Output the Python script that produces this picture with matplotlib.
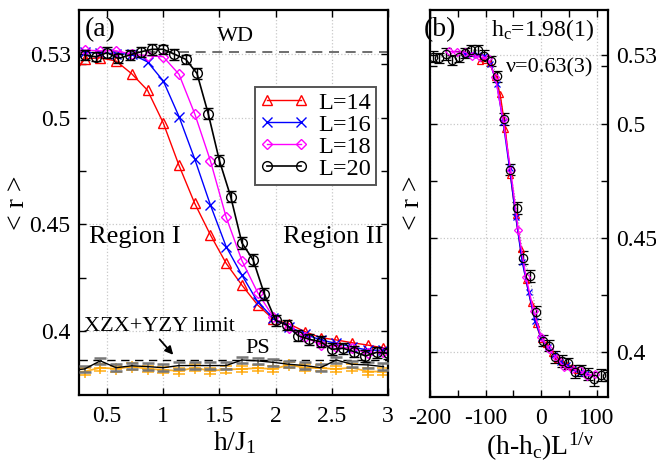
import numpy as np
import matplotlib.pyplot as plt
from matplotlib.ticker import FixedLocator

plt.rcParams['font.family'] = ['Liberation Serif', 'DejaVu Serif']
plt.rcParams['mathtext.fontset'] = 'custom'
plt.rcParams['mathtext.rm'] = 'Liberation Serif'
plt.rcParams['mathtext.it'] = 'Liberation Serif:italic'
plt.rcParams['axes.unicode_minus'] = False

# h/J1 values
h_14 = [0.16, 0.30, 0.44, 0.58, 0.72, 0.86, 1.00, 1.14, 1.28, 1.42, 1.56,
        1.70, 1.84, 1.98, 2.12, 2.26, 2.40, 2.54, 2.68, 2.82, 2.96]
h_grid = h_14[1:]
h_20 = [0.3, 0.4, 0.5, 0.6, 0.7, 0.8, 0.9, 1.0, 1.1, 1.2, 1.3, 1.4, 1.5, 1.6,
        1.7, 1.8, 1.9, 2.0, 2.1, 2.2, 2.3, 2.4, 2.5, 2.6, 2.7, 2.8, 2.9, 3.0]

r_14 = [0.5170, 0.5275, 0.5280, 0.5265, 0.5205, 0.5128, 0.4975, 0.4776, 0.4598,
        0.4450, 0.4317, 0.4215, 0.4122, 0.4055, 0.4033, 0.3997, 0.3969, 0.3958,
        0.3945, 0.3934, 0.3920]
r_16 = [0.5305, 0.5303, 0.5300, 0.5297, 0.5261, 0.5172, 0.5005, 0.4806, 0.4590,
        0.4395, 0.4262, 0.4137, 0.4060, 0.4020, 0.3985, 0.3958, 0.3942, 0.3926,
        0.3910, 0.3910]
r_18 = [0.5316, 0.5313, 0.5313, 0.5297, 0.5290, 0.5285, 0.5203, 0.5018, 0.4797,
        0.4533, 0.4330, 0.4180, 0.4065, 0.4013, 0.3973, 0.3934, 0.3926, 0.3919,
        0.3896, 0.3903]
r_20 = [0.5293, 0.5285, 0.5304, 0.5277, 0.5293, 0.5308, 0.5320, 0.5320, 0.5297,
        0.5273, 0.5207, 0.5019, 0.4798, 0.4630, 0.4413, 0.4333, 0.4173, 0.4050,
        0.4028, 0.3978, 0.3961, 0.3950, 0.3914, 0.3919, 0.3903, 0.3883, 0.3900,
        0.3896]
err_20 = [0.0025, 0.0022, 0.0025, 0.0022, 0.0025, 0.0022, 0.0025, 0.0022, 0.0025,
          0.0022, 0.0025, 0.0025, 0.0025, 0.0025, 0.0028, 0.0028, 0.0028, 0.0025,
          0.0025, 0.0025, 0.0025, 0.0025, 0.0028, 0.0025, 0.0025, 0.0030, 0.0025,
          0.0025]

# PS (Poisson) reference runs
ps_black = [0.3815, 0.3822, 0.3860, 0.3828, 0.3837, 0.3833, 0.3828, 0.3838, 0.3838,
            0.3838, 0.3838, 0.3864, 0.3860, 0.3853, 0.3844, 0.3838, 0.3828, 0.3864,
            0.3844, 0.3841, 0.3833]
ps_orange = [0.3805, 0.3810, 0.3828, 0.3823, 0.3833, 0.3823, 0.3818, 0.3813, 0.3828,
             0.3813, 0.3820, 0.3822, 0.3826, 0.3822, 0.3841, 0.3828, 0.3826, 0.3822,
             0.3828, 0.3810, 0.3810]
ps_err = 0.0015

r_wd = 0.5307
r_ps = 0.3863
hc = 1.98
nu = 0.63


def style(ax):
    for s in ax.spines.values():
        s.set_linewidth(1.6)
    ax.tick_params(which='both', direction='in', top=True, right=True,
                   labelsize=17, width=1.0, length=5)
    ax.grid(True, which='major', color='#c8c8c8', linestyle=':', linewidth=0.9)
    ax.set_axisbelow(True)


fig = plt.figure(figsize=(6.56, 4.62), dpi=100)
ax1 = fig.add_axes([0.1204, 0.145, 0.471, 0.8333])
ax2 = fig.add_axes([0.6555, 0.1407, 0.2713, 0.8377])

# ---------------- panel (a)
style(ax1)
ax1.axhline(r_wd, color='#555555', ls=(0, (6, 4)), lw=1.2, zorder=1)
ax1.axhline(r_ps, color='black', ls=(0, (6, 4)), lw=1.0, zorder=1)

ax1.errorbar(h_14, ps_orange, yerr=ps_err, color='orange', lw=1.3, marker='+',
             ms=8, mew=1.2, ecolor='orange', elinewidth=1.2, capsize=4, capthick=1.5,
             alpha=0.85, zorder=2)
ax1.errorbar(h_14, ps_black, yerr=ps_err, color='black', lw=1.0, fmt='-',
             ecolor='#777777', elinewidth=1.2, capsize=4, capthick=1.8, zorder=3)

ax1.plot(h_14, r_14, '-^', color='red', mfc='none', ms=7, mew=1.0, lw=1.0, label='L=14')
ax1.plot(h_grid, r_16, '-x', color='blue', ms=7, mew=1.0, lw=1.0, label='L=16')
ax1.plot(h_grid, r_18, '-D', color='magenta', mfc='none', ms=5.5, mew=1.0, lw=1.0,
         label='L=18')
ax1.errorbar(h_20, r_20, yerr=err_20, fmt='none', ecolor='black', elinewidth=1.0,
             capsize=3.5, zorder=4)
ax1.plot(h_20, r_20, '-o', color='black', mfc='none', ms=7, mew=1.0, lw=1.2,
         label='L=20', zorder=5)

ax1.set_xlim(0.25, 3.0)
ax1.set_ylim(0.370, 0.5504)
ax1.xaxis.set_major_locator(FixedLocator([0.5, 1.0, 1.5, 2.0, 2.5, 3.0]))
ax1.set_xticklabels(['0.5', '1', '1.5', '2', '2.5', '3'])
ax1.yaxis.set_major_locator(FixedLocator([0.4, 0.45, 0.5, 0.53]))
ax1.yaxis.set_minor_locator(FixedLocator([0.425, 0.475, 0.525]))
ax1.set_yticklabels(['0.4', '0.45', '0.5', '0.53'])
ax1.tick_params(axis='y', pad=6)
ax1.tick_params(axis='x', pad=8)

leg = ax1.legend(loc='upper left', bbox_to_anchor=(0.57, 0.80), numpoints=2,
                 handlelength=2.0, fancybox=False, edgecolor='#555555', framealpha=1,
                 fontsize=17.5, borderpad=0.2, labelspacing=0.0, handletextpad=0.4,
                 borderaxespad=0)
leg.get_frame().set_linewidth(1.4)

ax1.text(0.068, 0.948, '(a)', transform=ax1.transAxes, fontsize=20, ha='center', va='center')
ax1.text(0.505, 0.93, 'WD', transform=ax1.transAxes, fontsize=16, ha='center', va='center')
ax1.text(0.18, 0.41, 'Region I', transform=ax1.transAxes, fontsize=19, ha='center', va='center')
ax1.text(0.822, 0.41, 'Region II', transform=ax1.transAxes, fontsize=19, ha='center', va='center')
ax1.text(0.262, 0.177, 'XZX+YZY limit', transform=ax1.transAxes, fontsize=16,
         ha='center', va='center')
ax1.text(0.579, 0.122, 'PS', transform=ax1.transAxes, fontsize=16, ha='center', va='center')
ax1.annotate('', xy=(0.311, 0.099), xytext=(0.255, 0.150), xycoords='axes fraction',
             arrowprops=dict(arrowstyle='-|>', color='black', lw=1.3, mutation_scale=12))

# ---------------- panel (b): data collapse
style(ax2)
xb14 = (np.array(h_grid) - hc) * 14 ** (1 / nu)
xb16 = (np.array(h_grid) - hc) * 16 ** (1 / nu)
xb18 = (np.array(h_grid) - hc) * 18 ** (1 / nu)
xb20 = (np.array(h_20) - hc) * 20 ** (1 / nu)

ax2.plot(xb20, r_20, color='#999999', ls=':', lw=0.8)
ax2.errorbar(xb20, r_20, yerr=err_20, fmt='o', color='black', mfc='none', ms=6,
             mew=0.9, elinewidth=1.0, capsize=3.5)
ax2.plot(xb14, r_14[1:], '-^', color='red', mfc='none', ms=5, mew=0.9, lw=1.0)
ax2.plot(xb16, r_16, '-x', color='blue', ms=5, mew=0.9, lw=1.0)
ax2.plot(xb18, r_18, '-D', color='magenta', mfc='none', ms=4, mew=0.9, lw=1.0)

ax2.set_xlim(-200, 120)
ax2.set_ylim(0.3803, 0.5497)
ax2.xaxis.set_major_locator(FixedLocator([-200, -100, 0, 100]))
ax2.xaxis.set_minor_locator(FixedLocator([-150, -50, 50]))
ax2.yaxis.set_major_locator(FixedLocator([0.4, 0.45, 0.5, 0.53]))
ax2.yaxis.set_minor_locator(FixedLocator([0.425, 0.475, 0.525]))
ax2.set_yticklabels(['0.4', '0.45', '0.5', '0.53'])
ax2.tick_params(axis='y', labelleft=False, labelright=True, pad=6)
ax2.tick_params(axis='x', pad=8)

ax2.text(0.056, 0.948, '(b)', transform=ax2.transAxes, fontsize=20, ha='center', va='center')
ax2.text(0.635, 0.948, 'h$_\\mathrm{c}$=1.98(1)', transform=ax2.transAxes, fontsize=17,
         ha='center', va='center')
ax2.text(0.674, 0.85, 'ν=0.63(3)', transform=ax2.transAxes, fontsize=16,
         ha='center', va='center')

# axis labels
fig.text(17 / 656, 1 - 203 / 462, '< r >', rotation=90, fontsize=20, ha='center', va='center')
fig.text(413 / 656, 1 - 203 / 462, '< r >', rotation=90, fontsize=20, ha='center', va='center')
fig.text(235 / 656, 1 - 450 / 462, 'h/J$_1$', fontsize=20, ha='center', va='baseline')
fig.text(540 / 656, 1 - 455 / 462, '(h-h$_\\mathrm{c}$)L$^{\\mathrm{1/ν}}$', fontsize=20,
         ha='center', va='baseline')

fig.savefig('out.png', dpi=100)
